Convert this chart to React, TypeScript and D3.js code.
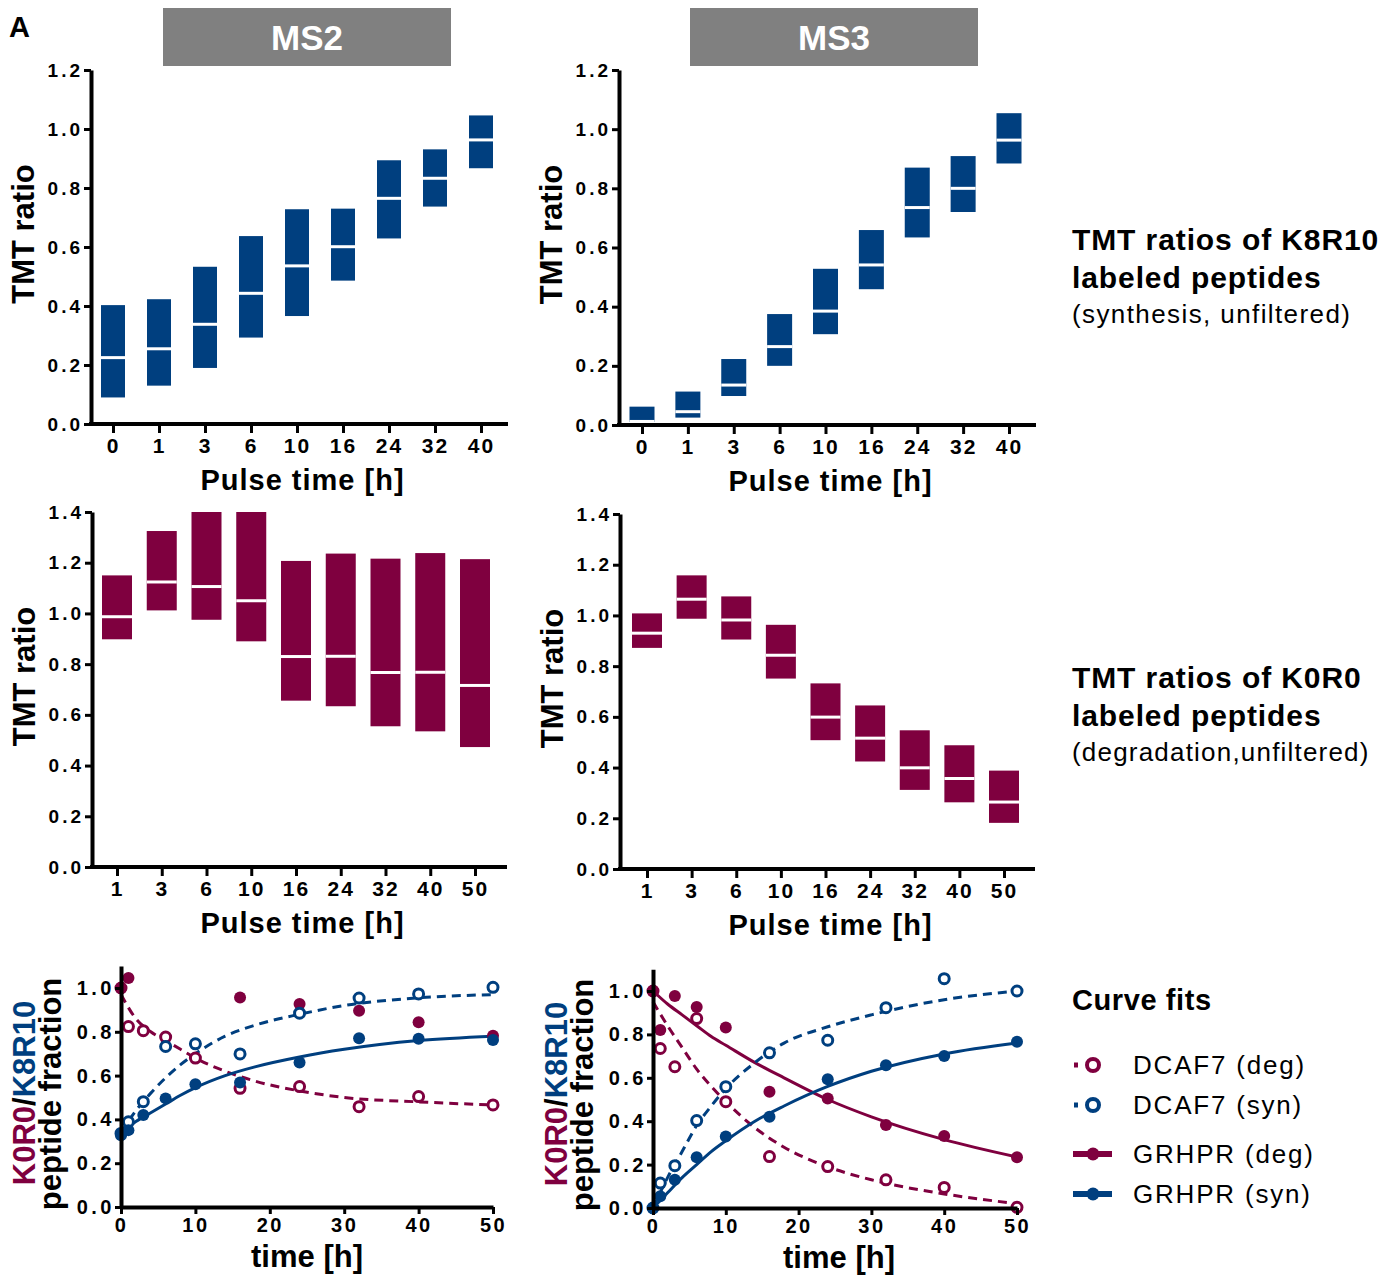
import React, { useEffect, useRef } from "react";
import * as d3 from "d3";

const BLUE = "#003f7f";
const MAROON = "#7f003f";
const FONT = "'Liberation Sans', Arial, sans-serif";

// categories
const synTimes = ["0", "1", "3", "6", "10", "16", "24", "32", "40"];
const degTimes = ["1", "3", "6", "10", "16", "24", "32", "40", "50"];
const synTicks = [0, 0.2, 0.4, 0.6, 0.8, 1.0, 1.2];
const degTicks = [0, 0.2, 0.4, 0.6, 0.8, 1.0, 1.2, 1.4];
const fitYTicks = [0, 0.2, 0.4, 0.6, 0.8, 1.0];
const fitXTicks = [0, 10, 20, 30, 40, 50];

// MS2 synthesis (K8R10) boxes
const ms2SynLow = [0.09, 0.13, 0.19, 0.293, 0.366, 0.486, 0.629, 0.737, 0.867];
const ms2SynMed = [0.225, 0.255, 0.338, 0.443, 0.536, 0.601, 0.765, 0.833, 0.963];
const ms2SynHigh = [0.403, 0.423, 0.533, 0.637, 0.728, 0.73, 0.894, 0.931, 1.046];

// MS3 synthesis boxes
const ms3SynLow = [0.01, 0.025, 0.098, 0.2, 0.307, 0.459, 0.634, 0.72, 0.884];
const ms3SynMed = [0.012, 0.045, 0.135, 0.265, 0.385, 0.541, 0.735, 0.8, 0.963];
const ms3SynHigh = [0.062, 0.113, 0.223, 0.375, 0.528, 0.659, 0.87, 0.909, 1.054];

// MS2 degradation (K0R0) boxes
const ms2DegLow = [0.898, 1.012, 0.975, 0.89, 0.656, 0.634, 0.555, 0.535, 0.473];
const ms2DegMed = [0.987, 1.124, 1.106, 1.05, 0.83, 0.831, 0.767, 0.768, 0.716];
const ms2DegHigh = [1.15, 1.325, 1.4, 1.4, 1.207, 1.236, 1.216, 1.238, 1.214];

// MS3 degradation boxes
const ms3DegLow = [0.872, 0.987, 0.905, 0.751, 0.508, 0.424, 0.312, 0.263, 0.182];
const ms3DegMed = [0.93, 1.064, 0.982, 0.843, 0.599, 0.516, 0.399, 0.357, 0.264];
const ms3DegHigh = [1.008, 1.158, 1.075, 0.963, 0.732, 0.645, 0.547, 0.488, 0.388];

// curve fit points
const fitTimes = [0, 1, 3, 6, 10, 16, 24, 32, 40, 50];
const ms2DcafDeg = [1.0, 0.824, 0.805, 0.776, 0.68, 0.542, 0.55, 0.458, 0.504, 0.466];
const ms2GrhprDeg = [1.0, 1.046, null, null, null, 0.957, 0.927, 0.896, 0.844, 0.782];
const ms2DcafSyn = [0.336, 0.389, 0.481, 0.733, 0.745, 0.699, 0.885, 0.954, 0.973, 1.003];
const ms2GrhprSyn = [0.328, 0.351, 0.42, 0.496, 0.56, 0.568, 0.66, 0.771, 0.768, 0.763];

const ms3DcafDeg = [1.0, 0.735, 0.651, 0.873, 0.49, 0.237, 0.191, 0.13, 0.095, 0.003];
const ms3GrhprDeg = [1.0, 0.82, 0.977, 0.926, 0.832, 0.536, 0.505, 0.383, 0.332, 0.234];
const ms3DcafSyn = [0, 0.115, 0.195, 0.403, 0.559, 0.715, 0.773, 0.923, 1.057, 1.0];
const ms3GrhprSyn = [0, 0.054, 0.13, 0.234, 0.329, 0.421, 0.593, 0.658, 0.7, 0.766];

// fitted curves
const curveTimes = [0, 2, 4, 6, 8, 10, 14, 18, 24, 30, 40, 50];
const ms2DcafDegFit = [0.97, 0.86, 0.8, 0.76, 0.72, 0.68, 0.62, 0.575, 0.53, 0.5, 0.48, 0.466];
const ms2DcafSynFit = [0.34, 0.44, 0.52, 0.59, 0.65, 0.7, 0.78, 0.83, 0.88, 0.92, 0.955, 0.97];
const ms2GrhprSynFit = [0.34, 0.39, 0.43, 0.47, 0.51, 0.545, 0.6, 0.64, 0.685, 0.72, 0.76, 0.78];

const ms3DcafDegFit = [0.95, 0.84, 0.74, 0.64, 0.56, 0.49, 0.37, 0.28, 0.19, 0.13, 0.065, 0.02];
const ms3DcafSynFit = [0, 0.14, 0.26, 0.38, 0.47, 0.55, 0.67, 0.76, 0.835, 0.89, 0.96, 1.0];
const ms3GrhprDegFit = [1.0, 0.94, 0.89, 0.84, 0.79, 0.75, 0.67, 0.6, 0.5, 0.42, 0.315, 0.235];
const ms3GrhprSynFit = [0, 0.07, 0.14, 0.2, 0.26, 0.31, 0.4, 0.47, 0.56, 0.63, 0.71, 0.76];

function styleAxis(g: any, fontSize: number, spacing: number) {
  g.select(".domain").attr("stroke", "#000").attr("stroke-width", 4);
  g.selectAll(".tick line").attr("stroke", "#000").attr("stroke-width", 3);
  g.selectAll(".tick text")
    .attr("fill", "#000")
    .style("font-family", FONT)
    .style("font-weight", "bold")
    .style("font-size", fontSize + "px")
    .style("letter-spacing", spacing + "px");
}

function boxPanel(svg: any, o: any) {
  const y = d3.scaleLinear().domain([0, o.yMax]).range([o.y0, o.yTop]);
  const x = d3.scalePoint<string>().domain(o.cats).range(o.catRange);
  const g = svg.append("g");

  // boxes
  o.cats.forEach((c: string, i: number) => {
    const cx = x(c) as number;
    g.append("rect")
      .attr("x", cx - o.boxW / 2)
      .attr("width", o.boxW)
      .attr("y", y(o.high[i]))
      .attr("height", y(o.low[i]) - y(o.high[i]))
      .attr("fill", o.color);
    g.append("line")
      .attr("x1", cx - o.boxW / 2)
      .attr("x2", cx + o.boxW / 2)
      .attr("y1", y(o.med[i]))
      .attr("y2", y(o.med[i]))
      .attr("stroke", "#fff")
      .attr("stroke-width", 3);
  });

  // y axis
  g.append("g")
    .attr("transform", `translate(${o.x0},0)`)
    .call(
      d3.axisLeft(y).tickValues(o.ticks).tickSize(7).tickSizeOuter(0).tickPadding(1)
        .tickFormat(d3.format(".1f"))
    )
    .call((a: any) => styleAxis(a, 19, 3));

  // x axis
  g.append("line")
    .attr("x1", o.x0 - 2)
    .attr("x2", o.xEnd)
    .attr("y1", o.y0)
    .attr("y2", o.y0)
    .attr("stroke", "#000")
    .attr("stroke-width", 4);
  g.append("g")
    .attr("transform", `translate(0,${o.y0})`)
    .call(d3.axisBottom(x).tickSize(9).tickSizeOuter(0).tickPadding(5))
    .call((a: any) => {
      styleAxis(a, 21, 2);
      a.select(".domain").remove();
    });

  g.append("text")
    .attr("transform", `translate(${o.x0 - 57},${(o.y0 + o.yTop) / 2 - 13}) rotate(-90)`)
    .attr("text-anchor", "middle")
    .style("font-family", FONT)
    .style("font-weight", "bold")
    .style("font-size", "31px")
    .text("TMT ratio");

  g.append("text")
    .attr("x", (o.x0 + o.xEnd) / 2 + 3)
    .attr("y", o.y0 + 66)
    .attr("text-anchor", "middle")
    .style("font-family", FONT)
    .style("font-weight", "bold")
    .style("font-size", "29px")
    .style("letter-spacing", "1px")
    .text("Pulse time [h]");
}

function fitPanel(svg: any, o: any) {
  const x = d3.scaleLinear().domain([0, 50]).range([o.x0, o.x50]);
  const y = d3.scaleLinear().domain([0, 1.1]).range([o.y0, o.y0 - 1.1 * o.unit]);
  const g = svg.append("g");

  const line = d3
    .line<any>()
    .x((d) => x(d[0]))
    .y((d) => y(d[1]))
    .curve(d3.curveMonotoneX);

  o.curves.forEach((c: any) => {
    g.append("path")
      .datum(curveTimes.map((t, i) => [t, c.values[i]]))
      .attr("d", line)
      .attr("fill", "none")
      .attr("stroke", c.color)
      .attr("stroke-width", 3)
      .attr("stroke-dasharray", c.dashed ? "9,6" : null);
  });

  o.points.forEach((p: any) => {
    const pts = fitTimes
      .map((t, i) => [t, p.values[i]])
      .filter((d) => d[1] !== null);
    g.selectAll(null)
      .data(pts)
      .enter()
      .append("circle")
      .attr("cx", (d: any) => x(d[0]))
      .attr("cy", (d: any) => y(d[1]))
      .attr("r", p.open ? 5 : 6)
      .attr("fill", p.open ? "#fff" : p.color)
      .attr("stroke", p.color)
      .attr("stroke-width", p.open ? 3 : 0);
  });

  g.append("g")
    .attr("transform", `translate(${o.x0},0)`)
    .call(
      d3.axisLeft(y).tickValues(fitYTicks).tickSize(6).tickSizeOuter(0).tickPadding(0)
        .tickFormat(d3.format(".1f"))
    )
    .call((a: any) => styleAxis(a, 20, 3.5));

  g.append("g")
    .attr("transform", `translate(0,${o.y0})`)
    .call(d3.axisBottom(x).tickValues(fitXTicks).tickSize(7).tickSizeOuter(0).tickPadding(4))
    .call((a: any) => styleAxis(a, 20, 2.5));

  const lab = g
    .append("text")
    .attr("transform", `translate(${o.x0 - 86},${o.y0 - 114}) rotate(-90)`)
    .attr("text-anchor", "middle")
    .style("font-family", FONT)
    .style("font-weight", "bold")
    .style("font-size", "31px");
  lab.append("tspan").attr("fill", MAROON).text("K0R0");
  lab.append("tspan").attr("fill", "#000").text("/");
  lab.append("tspan").attr("fill", BLUE).text("K8R10");

  g.append("text")
    .attr("transform", `translate(${o.x0 - 60},${o.y0 - 113}) rotate(-90)`)
    .attr("text-anchor", "middle")
    .style("font-family", FONT)
    .style("font-weight", "bold")
    .style("font-size", "31px")
    .text("peptide fraction");

  g.append("text")
    .attr("x", o.x0 + 186)
    .attr("y", o.y0 + 60)
    .attr("text-anchor", "middle")
    .style("font-family", FONT)
    .style("font-weight", "bold")
    .style("font-size", "31px")
    .text("time [h]");
}

function createFigure(node: SVGSVGElement) {
  const svg = d3.select(node);
  svg.selectAll("*").remove();

  svg.append("text")
    .attr("x", 9)
    .attr("y", 37)
    .style("font-family", FONT)
    .style("font-weight", "bold")
    .style("font-size", "29px")
    .text("A");

  [
    { x: 163, label: "MS2" },
    { x: 690, label: "MS3" },
  ].forEach((h) => {
    svg.append("rect")
      .attr("x", h.x)
      .attr("y", 8)
      .attr("width", 288)
      .attr("height", 58)
      .attr("fill", "#808080");
    svg.append("text")
      .attr("x", h.x + 144)
      .attr("y", 50)
      .attr("text-anchor", "middle")
      .attr("fill", "#fff")
      .style("font-family", FONT)
      .style("font-weight", "bold")
      .style("font-size", "35px")
      .text(h.label);
  });

  boxPanel(svg, {
    x0: 91, xEnd: 508, y0: 424, yTop: 70, yMax: 1.2, ticks: synTicks,
    cats: synTimes, catRange: [113, 481], boxW: 24, color: BLUE,
    low: ms2SynLow, med: ms2SynMed, high: ms2SynHigh,
  });
  boxPanel(svg, {
    x0: 619, xEnd: 1036, y0: 425, yTop: 70, yMax: 1.2, ticks: synTicks,
    cats: synTimes, catRange: [642, 1009], boxW: 25, color: BLUE,
    low: ms3SynLow, med: ms3SynMed, high: ms3SynHigh,
  });
  boxPanel(svg, {
    x0: 92, xEnd: 507, y0: 867, yTop: 512, yMax: 1.4, ticks: degTicks,
    cats: degTimes, catRange: [117, 475], boxW: 30, color: MAROON,
    low: ms2DegLow, med: ms2DegMed, high: ms2DegHigh,
  });
  boxPanel(svg, {
    x0: 620, xEnd: 1035, y0: 869, yTop: 514, yMax: 1.4, ticks: degTicks,
    cats: degTimes, catRange: [647, 1004], boxW: 30, color: MAROON,
    low: ms3DegLow, med: ms3DegMed, high: ms3DegHigh,
  });

  fitPanel(svg, {
    x0: 121, x50: 493, y0: 1207, unit: 219,
    curves: [
      { values: ms2DcafDegFit, color: MAROON, dashed: true },
      { values: ms2DcafSynFit, color: BLUE, dashed: true },
      { values: ms2GrhprSynFit, color: BLUE, dashed: false },
    ],
    points: [
      { values: ms2DcafDeg, color: MAROON, open: true },
      { values: ms2GrhprDeg, color: MAROON, open: false },
      { values: ms2DcafSyn, color: BLUE, open: true },
      { values: ms2GrhprSyn, color: BLUE, open: false },
    ],
  });
  fitPanel(svg, {
    x0: 653, x50: 1017, y0: 1208, unit: 217,
    curves: [
      { values: ms3DcafDegFit, color: MAROON, dashed: true },
      { values: ms3GrhprDegFit, color: MAROON, dashed: false },
      { values: ms3DcafSynFit, color: BLUE, dashed: true },
      { values: ms3GrhprSynFit, color: BLUE, dashed: false },
    ],
    points: [
      { values: ms3DcafDeg, color: MAROON, open: true },
      { values: ms3GrhprDeg, color: MAROON, open: false },
      { values: ms3DcafSyn, color: BLUE, open: true },
      { values: ms3GrhprSyn, color: BLUE, open: false },
    ],
  });

  // right-hand captions
  const caption = (lines: any[]) => {
    lines.forEach((l) => {
      svg.append("text")
        .attr("x", 1072)
        .attr("y", l.y)
        .style("font-family", FONT)
        .style("font-weight", l.bold ? "bold" : "normal")
        .style("font-size", l.size + "px")
        .style("letter-spacing", l.spacing + "px")
        .text(l.text);
    });
  };
  caption([
    { text: "TMT ratios of K8R10", y: 250, bold: true, size: 30, spacing: 0.9 },
    { text: "labeled peptides", y: 288, bold: true, size: 30, spacing: 0.9 },
    { text: "(synthesis, unfiltered)", y: 323, bold: false, size: 26, spacing: 1.4 },
    { text: "TMT ratios of K0R0", y: 688, bold: true, size: 30, spacing: 0.9 },
    { text: "labeled peptides", y: 726, bold: true, size: 30, spacing: 0.9 },
    { text: "(degradation,unfiltered)", y: 761, bold: false, size: 26, spacing: 1.2 },
    { text: "Curve fits", y: 1010, bold: true, size: 29, spacing: 0.6 },
  ]);

  // legend
  const legend = [
    { text: "DCAF7 (deg)", color: MAROON, open: true, y: 1065 },
    { text: "DCAF7 (syn)", color: BLUE, open: true, y: 1105 },
    { text: "GRHPR (deg)", color: MAROON, open: false, y: 1154 },
    { text: "GRHPR (syn)", color: BLUE, open: false, y: 1194 },
  ];
  legend.forEach((d) => {
    if (d.open) {
      svg.append("line")
        .attr("x1", 1074).attr("x2", 1078)
        .attr("y1", d.y).attr("y2", d.y)
        .attr("stroke", d.color).attr("stroke-width", 5);
      svg.append("circle")
        .attr("cx", 1093).attr("cy", d.y).attr("r", 6)
        .attr("fill", "#fff").attr("stroke", d.color).attr("stroke-width", 4);
    } else {
      svg.append("line")
        .attr("x1", 1073).attr("x2", 1112)
        .attr("y1", d.y).attr("y2", d.y)
        .attr("stroke", d.color).attr("stroke-width", 6);
      svg.append("circle")
        .attr("cx", 1093).attr("cy", d.y).attr("r", 6.5)
        .attr("fill", d.color);
    }
    svg.append("text")
      .attr("x", 1133)
      .attr("y", d.y + 9)
      .style("font-family", FONT)
      .style("font-size", "26px")
      .style("letter-spacing", "1.8px")
      .text(d.text);
  });
}

export default function App() {
  const ref = useRef<SVGSVGElement>(null);
  useEffect(() => {
    if (ref.current) createFigure(ref.current);
  }, []);

  return (
    <div style={{ position: "absolute", left: 0, top: 0 }}>
      <svg ref={ref} width={1385} height={1275} style={{ display: "block", background: "#fff" }} />
    </div>
  );
}
